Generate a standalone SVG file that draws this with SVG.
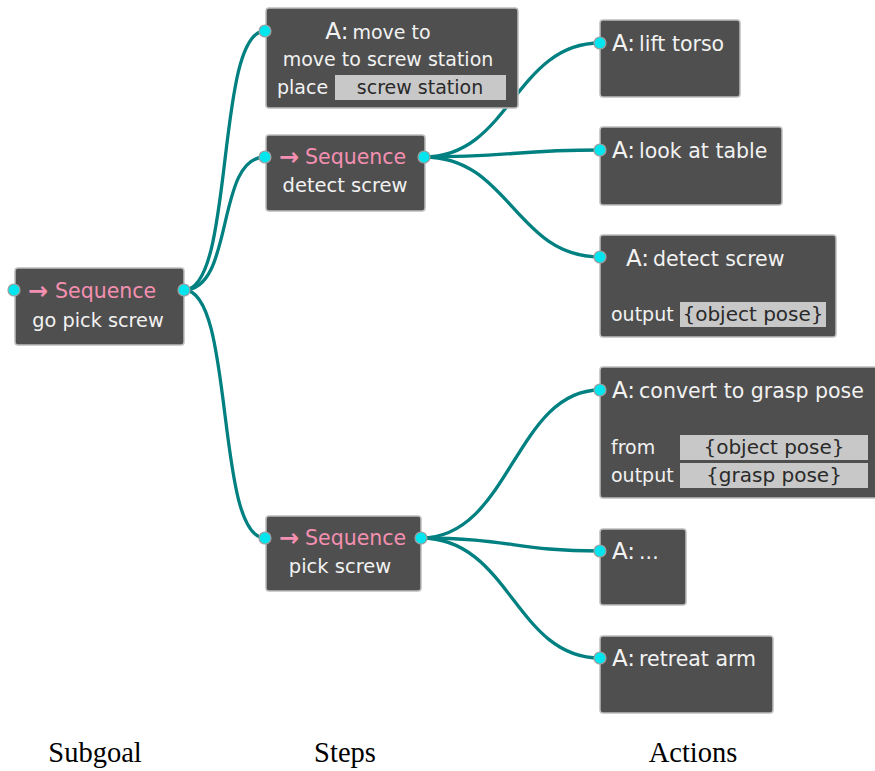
<svg xmlns="http://www.w3.org/2000/svg" width="875" height="771" viewBox="0 0 875 771">
<defs>
<style>
.node{fill:#4f4f4f;stroke:#bdbdbd;stroke-width:1.5}
.t{font-family:"DejaVu Sans",sans-serif;font-size:19px;fill:#f2f2f2}
.t2{font-family:"DejaVu Sans",sans-serif;font-size:20.5px;fill:#f2f2f2}
.a{font-family:"DejaVu Sans",sans-serif;font-size:23px;fill:#f2f2f2}
.seq{font-family:"DejaVu Sans",sans-serif;font-size:20.5px;fill:#f48fb1}
.arr{font-family:"DejaVu Sans",sans-serif;font-size:24px;font-weight:bold;fill:#f48fb1}
.fld{fill:#c8c8c8}
.ft{font-family:"DejaVu Sans",sans-serif;font-size:20px;fill:#2a2a2a}
.port{fill:#00e5ee;stroke:#9e9e9e;stroke-width:1.2}
.edge{fill:none;stroke:#008080;stroke-width:3.3}
.lab{font-family:"Liberation Serif",serif;font-size:28.5px;fill:#000}
</style>
</defs>
<rect width="875" height="771" fill="#fff"/>
<g id="connectors">
<path class="edge" d="M184,290 C235,290 215,31 265,31"/>
<path class="edge" d="M184,290 C235,290 215,157 265,157"/>
<path class="edge" d="M184,290 C235,290 215,538 265,538"/>
<path class="edge" d="M424,157 C510,157 515,43 600,43"/>
<path class="edge" d="M424,157 C510,157 515,150 600,150"/>
<path class="edge" d="M424,157 C510,157 515,257 600,257"/>
<path class="edge" d="M421,538 C510,538 515,390 600,390"/>
<path class="edge" d="M421,538 C510,538 515,551 600,551"/>
<path class="edge" d="M421,538 C510,538 515,658 600,658"/>
</g>
<g id="go-pick-screw">
<rect class="node" x="15" y="268" width="169" height="77" rx="3"/>
<text class="arr" x="28" y="299">→</text>
<text class="seq" x="55" y="298">Sequence</text>
<text class="t" x="98" y="327" text-anchor="middle" style="font-size:19.3px">go pick screw</text>
<circle class="port" cx="14" cy="290" r="6"/>
<circle class="port" cx="184" cy="290" r="6"/>
</g>
<g id="move-to">
<rect class="node" x="266" y="8" width="252" height="100" rx="3"/>
<text x="378" y="39" text-anchor="middle"><tspan class="a">A:</tspan><tspan class="t" dx="4">move to</tspan></text>
<text class="t" x="388" y="66" text-anchor="middle">move to screw station</text>
<text class="t" x="277" y="94">place</text>
<rect class="fld" x="335" y="75" width="171" height="25"/>
<text class="ft" x="420" y="94" text-anchor="middle" style="font-size:19px">screw station</text>
<circle class="port" cx="265" cy="31" r="6"/>
</g>
<g id="detect-screw-seq">
<rect class="node" x="266" y="135" width="159" height="76" rx="3"/>
<text class="arr" x="279" y="165">→</text>
<text class="seq" x="305" y="164">Sequence</text>
<text class="t" x="345" y="192" text-anchor="middle" style="font-size:19.5px">detect screw</text>
<circle class="port" cx="265" cy="157" r="6"/>
<circle class="port" cx="424" cy="157" r="6"/>
</g>
<g id="pick-screw-seq">
<rect class="node" x="266" y="516" width="155" height="75" rx="3"/>
<text class="arr" x="279" y="546">→</text>
<text class="seq" x="305" y="545">Sequence</text>
<text class="t" x="340" y="573" text-anchor="middle" style="font-size:19.5px">pick screw</text>
<circle class="port" cx="265" cy="538" r="6"/>
<circle class="port" cx="421" cy="538" r="6"/>
</g>
<g id="lift-torso">
<rect class="node" x="600" y="20" width="140" height="77" rx="3"/>
<text x="612" y="51"><tspan class="a">A:</tspan><tspan class="t2" dx="4">lift torso</tspan></text>
<circle class="port" cx="600" cy="43" r="6"/>
</g>
<g id="look-at-table">
<rect class="node" x="600" y="127" width="182" height="78" rx="3"/>
<text x="612" y="158"><tspan class="a">A:</tspan><tspan class="t2" dx="4">look at table</tspan></text>
<circle class="port" cx="600" cy="150" r="6"/>
</g>
<g id="detect-screw">
<rect class="node" x="600" y="235" width="236" height="102" rx="3"/>
<text x="626" y="266"><tspan class="a">A:</tspan><tspan class="t2" dx="4">detect screw</tspan></text>
<text class="t" x="611" y="321">output</text>
<rect class="fld" x="680" y="302" width="146" height="25"/>
<text class="ft" x="753" y="321" text-anchor="middle">{object pose}</text>
<circle class="port" cx="600" cy="257" r="6"/>
</g>
<g id="convert-to-grasp-pose">
<rect class="node" x="600" y="367" width="280" height="131" rx="3"/>
<text x="612" y="398"><tspan class="a">A:</tspan><tspan class="t2" dx="4">convert to grasp pose</tspan></text>
<text class="t" x="611" y="454">from</text>
<rect class="fld" x="680" y="435" width="188" height="25"/>
<text class="ft" x="774" y="454" text-anchor="middle">{object pose}</text>
<text class="t" x="611" y="482">output</text>
<rect class="fld" x="680" y="463" width="188" height="25"/>
<text class="ft" x="774" y="482" text-anchor="middle">{grasp pose}</text>
<circle class="port" cx="600" cy="390" r="6"/>
</g>
<g id="ellipsis">
<rect class="node" x="600" y="529" width="86" height="76" rx="3"/>
<text x="612" y="559"><tspan class="a">A:</tspan><tspan class="t2" dx="4">...</tspan></text>
<circle class="port" cx="600" cy="551" r="6"/>
</g>
<g id="retreat-arm">
<rect class="node" x="600" y="636" width="173" height="77" rx="3"/>
<text x="612" y="666"><tspan class="a">A:</tspan><tspan class="t2" dx="4">retreat arm</tspan></text>
<circle class="port" cx="600" cy="658" r="6"/>
</g>
<g id="labels">
<text class="lab" x="95" y="762" text-anchor="middle">Subgoal</text>
<text class="lab" x="345" y="762" text-anchor="middle">Steps</text>
<text class="lab" x="693" y="762" text-anchor="middle">Actions</text>
</g>
</svg>
